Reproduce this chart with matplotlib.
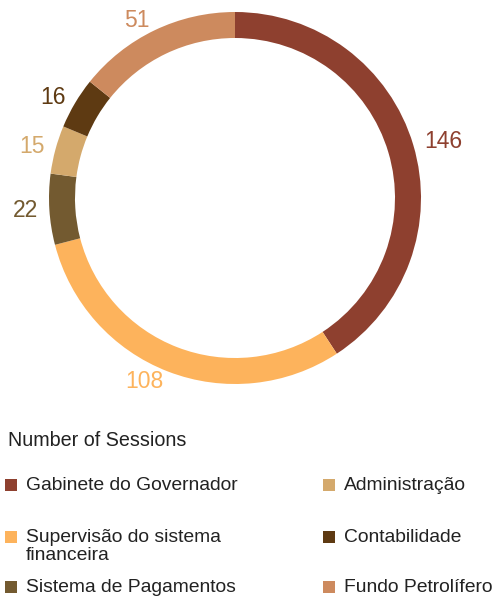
import matplotlib
matplotlib.use("Agg")
import matplotlib.pyplot as plt
from matplotlib.patches import Rectangle

categories = ["Gabinete do Governador", "Supervisão do sistema\nfinanceira", "Sistema de Pagamentos",
              "Administração", "Contabilidade", "Fundo Petrolífero"]
values = [146, 108, 22, 15, 16, 51]
colors = ["#8E402F", "#FDB35C", "#735A30", "#D4A96C", "#5E3A12", "#CD8A5E"]
legend_title = "Number of Sessions"

plt.rcParams['font.family'] = ['Liberation Sans', 'DejaVu Sans']

W, H = 496, 599
fig = plt.figure(figsize=(W / 100, H / 100), dpi=100)

R = 186.0
cx, cy = 235.0, 198.0
half = 1.2 * R
ax = fig.add_axes([(cx - half) / W, (H - cy - half) / H, 2 * half / W, 2 * half / H])
ax.axis("off")

wedges, texts = ax.pie(values, colors=colors, startangle=90, counterclock=False,
                       labels=[str(v) for v in values], labeldistance=1.06,
                       wedgeprops=dict(width=26 / R, linewidth=0), radius=1.0,
                       textprops=dict(fontsize=16.5))
for t, c in zip(texts, colors):
    t.set_color(c)
ax.set_xlim(-1.2, 1.2)
ax.set_ylim(-1.2, 1.2)
ax.set_aspect("equal")

# legend
fig.text(8 / W, 1 - 440 / H, legend_title, fontsize=14.2, color="#222222", va="center", ha="left")
positions = [(5, 485), (5, 537), (5, 587), (323, 485), (323, 537), (323, 587)]
for (x, y), lab, c in zip(positions, categories, colors):
    fig.patches.append(Rectangle((x / W, 1 - (y + 6) / H), 12 / W, 12 / H,
                                 transform=fig.transFigure, facecolor=c, edgecolor="none"))
    fig.text((x + 21) / W, 1 - (y - 8) / H, lab, fontsize=13.9, color="#222222",
             va="top", ha="left", linespacing=1.1)

fig.savefig("out.png", dpi=100)
